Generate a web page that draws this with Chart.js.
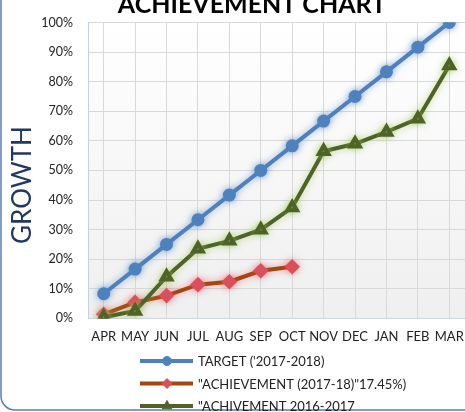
<!DOCTYPE html>
<html>
<head>
<meta charset="utf-8">
<script src="https://cdn.jsdelivr.net/npm/chart.js@4.4.1/dist/chart.umd.min.js"></script>
<style>
  html, body { margin: 0; padding: 0; background: #fff; }
  #wrap { width: 465px; height: 412px; position: relative; }
</style>
</head>
<body>
<div id="wrap"><canvas id="myChart" width="465" height="412"></canvas></div>
<script>
// Datos
const meses = ["APR", "MAY", "JUN", "JUL", "AUG", "SEP", "OCT", "NOV", "DEC", "JAN", "FEB", "MAR"];
const target = [8.33, 16.67, 25, 33.33, 41.67, 50, 58.33, 66.67, 75, 83.33, 91.67, 100];
const logro1718 = [1.4, 5.4, 7.7, 11.4, 12.4, 16.1, 17.45, null, null, null, null, null];
const logro1617 = [0.4, 2.5, 14.1, 23.5, 26.2, 30, 37.5, 56.5, 59, 63, 67.5, 85.5];
const ticksY = [0, 10, 20, 30, 40, 50, 60, 70, 80, 90, 100];
const nombres = ["TARGET ('2017-2018)", "\"ACHIEVEMENT (2017-18)\"17.45%)", "\"ACHIVEMENT 2016-2017"];

const fuente = "Lato, 'Open Sans', sans-serif";

const glow = ['rgba(79,129,189,0.55)', 'rgba(230,80,90,0.5)', 'rgba(150,200,80,0.6)'];

// fondo, marco, titulos y leyenda
const decor = {
    id: 'decor',
    beforeDraw(chart) {
        const { ctx, chartArea: a } = chart;
        ctx.save();
        const g = ctx.createLinearGradient(0, a.top, 0, a.bottom);
        g.addColorStop(0, '#ffffff');
        g.addColorStop(1, '#efefef');
        ctx.fillStyle = g;
        ctx.fillRect(a.left, a.top, a.right - a.left, a.bottom - a.top);
        ctx.restore();
    },
    beforeDatasetDraw(chart, args) {
        const ctx = chart.ctx;
        ctx.save();
        ctx.shadowColor = glow[args.index];
        ctx.shadowBlur = 7;
    },
    afterDatasetDraw(chart) {
        chart.ctx.restore();
    },
    afterDraw(chart) {
        const ctx = chart.ctx;
        ctx.save();
        // marco
        ctx.strokeStyle = '#5b7db3';
        ctx.lineWidth = 1.5;
        ctx.beginPath();
        ctx.roundRect(1, -30, 500, 440, 14);
        ctx.stroke();
        // titulo
        ctx.fillStyle = '#000';
        ctx.font = "bold 25px " + fuente;
        ctx.textAlign = 'center';
        ctx.textBaseline = 'alphabetic';
        ctx.fillText("ACHIEVEMENT CHART", 252, 13);
        // titulo eje y
        ctx.save();
        ctx.translate(23, 185);
        ctx.rotate(-Math.PI / 2);
        ctx.fillStyle = '#1f3864';
        ctx.font = "26px " + fuente;
        ctx.textBaseline = 'middle';
        ctx.fillText("GROWTH", 0, 0);
        ctx.restore();
        // leyenda
        const ds = chart.data.datasets;
        ctx.font = "13px " + fuente;
        ctx.textAlign = 'left';
        ctx.textBaseline = 'middle';
        ds.forEach((d, i) => {
            const y = 361 + i * 22.5;
            ctx.strokeStyle = d.borderColor;
            ctx.lineWidth = 4;
            ctx.beginPath();
            ctx.moveTo(140, y);
            ctx.lineTo(193, y);
            ctx.stroke();
            ctx.lineWidth = 1;
            ctx.fillStyle = d.pointBackgroundColor;
            ctx.strokeStyle = d.pointBorderColor;
            Chart.helpers.drawPoint(ctx, {
                pointStyle: d.pointStyle,
                radius: d.pointRadius,
                borderWidth: 1
            }, 167, y);
            ctx.fillStyle = '#222';
            ctx.fillText(nombres[i], 198, y + 1);
        });
        ctx.restore();
    }
};

const ctx = document.getElementById('myChart');
new Chart(ctx, {
    type: 'line',
    data: {
        labels: meses,
        datasets: [{
            label: nombres[0],
            data: target,
            borderColor: '#4f81bd',
            borderWidth: 4,
            pointStyle: 'circle',
            pointRadius: 4.5,
            pointBackgroundColor: '#4f81bd',
            pointBorderColor: '#4f81bd',
            order: 2
        }, {
            label: nombres[1],
            data: logro1718,
            borderColor: '#a4470f',
            borderWidth: 4,
            pointStyle: 'rectRot',
            pointRadius: 5,
            pointBackgroundColor: '#d9505c',
            pointBorderColor: '#d9505c',
            order: 1
        }, {
            label: nombres[2],
            data: logro1617,
            borderColor: '#4f6228',
            borderWidth: 4,
            pointStyle: 'triangle',
            pointRadius: 5.5,
            pointBackgroundColor: '#4f6228',
            pointBorderColor: '#4f6228',
            order: 0
        }]
    },
    options: {
        responsive: false,
        animation: false,
        spanGaps: false,
        layout: { autoPadding: false, padding: { top: 19, left: 40, right: 0, bottom: 67 } },
        plugins: {
            legend: { display: false },
            title: { display: false },
            tooltip: { enabled: false }
        },
        scales: {
            x: {
                offset: true,
                afterFit(axis) { axis.paddingLeft = 0; axis.paddingRight = 0; },
                grid: { offset: false, color: '#d9d9d9', drawTicks: true, tickLength: 11, tickColor: 'rgba(0,0,0,0)' },
                border: { color: '#d0d6e0' },
                ticks: { color: '#222', font: { size: 13, family: fuente }, padding: 0, maxRotation: 0, autoSkip: false }
            },
            y: {
                min: 0,
                max: 100,
                afterBuildTicks(axis) { axis.ticks = ticksY.map(v => ({ value: v })); },
                afterFit(axis) { axis.width = 48; },
                grid: { color: '#d9d9d9', drawTicks: false },
                border: { color: '#c5d0e2' },
                ticks: { color: '#222', font: { size: 12.5, family: fuente }, padding: 15, callback: v => v + '%' }
            }
        }
    },
    plugins: [decor]
});
</script>
</body>
</html>
